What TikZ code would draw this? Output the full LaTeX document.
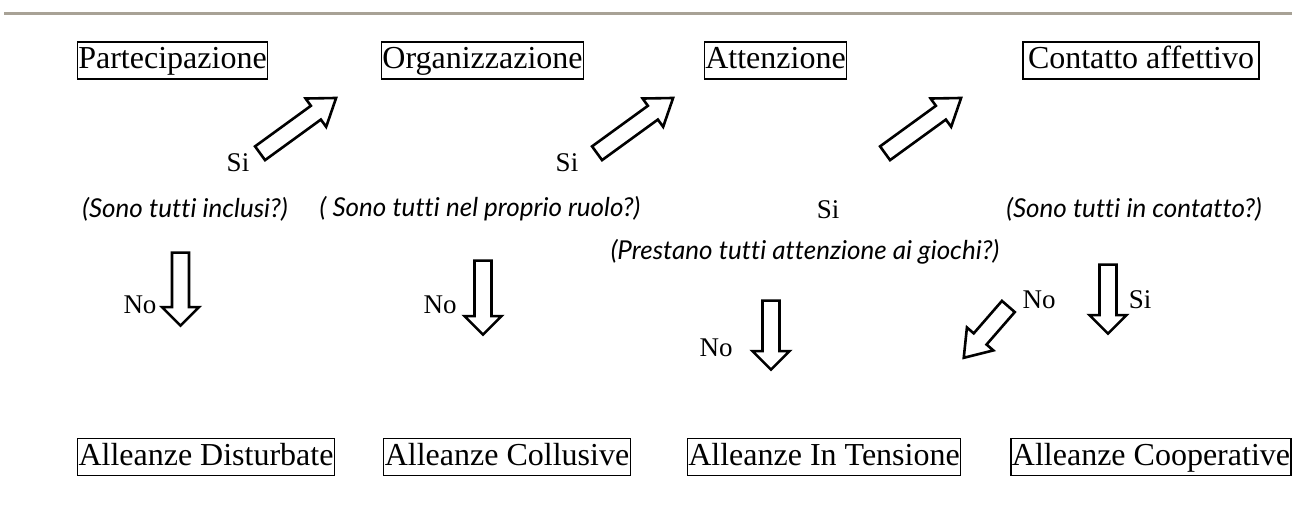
\documentclass[tikz,border=0pt]{standalone}
\usepackage{fontspec}
\setmainfont{Liberation Serif}
\newfontfamily\questionfont[Ligatures=NoCommon]{Lato}
\usetikzlibrary{shapes.arrows}
\definecolor{ruleGrey}{RGB}{168,162,150}

\begin{document}
\begin{tikzpicture}[
  x=1pt, y=-1pt,
  stage/.style={
    draw,
    line width=1.2pt,
    inner xsep=1pt,
    inner ysep=3.5pt,
    text height=23pt,
    text depth=7pt,
    font=\fontsize{32}{38}\selectfont
  },
  question/.style={inner sep=0pt,font=\questionfont\itshape\fontsize{26}{30}\selectfont},
  answer/.style={inner sep=0pt,font=\fontsize{27}{31}\selectfont},
  downarrow/.style={
    single arrow,
    draw,
    line width=2.6pt,
    inner xsep=0pt,
    inner ysep=7.2pt,
    single arrow head extend=10pt,
    single arrow tip angle=90,
    anchor=tail,
    rotate=-90
  },
  diagarrow/.style={
    single arrow,
    draw,
    line width=2.6pt,
    inner xsep=0pt,
    inner ysep=7.2pt,
    single arrow head extend=9pt,
    single arrow tip angle=70,
    anchor=tail
  }
]
  \useasboundingbox (0,0) rectangle (1292,512);
  \draw[ruleGrey,line width=3pt] (4,13.5) -- (1292,13.5);

  % stages
  \node[stage] (partecipazione) at (172.5,60.5) {Partecipazione};
  \node[stage] (organizzazione) at (482.5,60.5) {Organizzazione};
  \node[stage] (attenzione) at (775.5,60.5) {Attenzione};
  \node[stage,minimum width=236pt] (contatto) at (1141,60.5) {Contatto affettivo};

  % outcomes
  \node[stage] (disturbate) at (206,457) {Alleanze Disturbate};
  \node[stage] (collusive) at (507,457) {Alleanze Collusive};
  \node[stage] (tensione) at (824,457) {Alleanze In Tensione};
  \node[stage] (cooperative) at (1151,457) {Alleanze Cooperative};

  % questions
  \node[question] (qInclusi) at (185,209) {(Sono tutti inclusi?)};
  \node[question] (qRuolo) at (480,209) {( Sono tutti nel proprio ruolo?)};
  \node[question] (qGiochi) at (805,252) {(Prestano tutti attenzione ai giochi?)};
  \node[question] (qContatto) at (1134,209) {(Sono tutti in contatto?)};

  % yes arrows
  \node[diagarrow,minimum height=94pt,rotate=36] (siPart) at (259,154) {};
  \node[diagarrow,minimum height=94pt,rotate=36] (siOrg) at (596,154) {};
  \node[diagarrow,minimum height=94pt,rotate=36] (siAtt) at (884,154) {};
  \node[downarrow,minimum height=69pt] (siCont) at (1108,263.3) {};

  % no arrows
  \node[downarrow,minimum height=73pt] (noPart) at (180.5,251.3) {};
  \node[downarrow,minimum height=74pt] (noOrg) at (483,259.3) {};
  \node[downarrow,minimum height=69pt] (noAtt) at (771,299.3) {};
  \node[diagarrow,minimum height=68pt,rotate=229] (noCont) at (1009.2,305.5) {};

  % answers
  \node[answer] (lSiPart) at (238,163) {Si};
  \node[answer] (lSiOrg) at (567,163) {Si};
  \node[answer] (lSiAtt) at (828,210) {Si};
  \node[answer] (lSiCont) at (1140,300) {Si};
  \node[answer] (lNoPart) at (140,305) {No};
  \node[answer] (lNoOrg) at (440,305) {No};
  \node[answer] (lNoAtt) at (716,348) {No};
  \node[answer] (lNoCont) at (1039,300) {No};
\end{tikzpicture}
\end{document}
